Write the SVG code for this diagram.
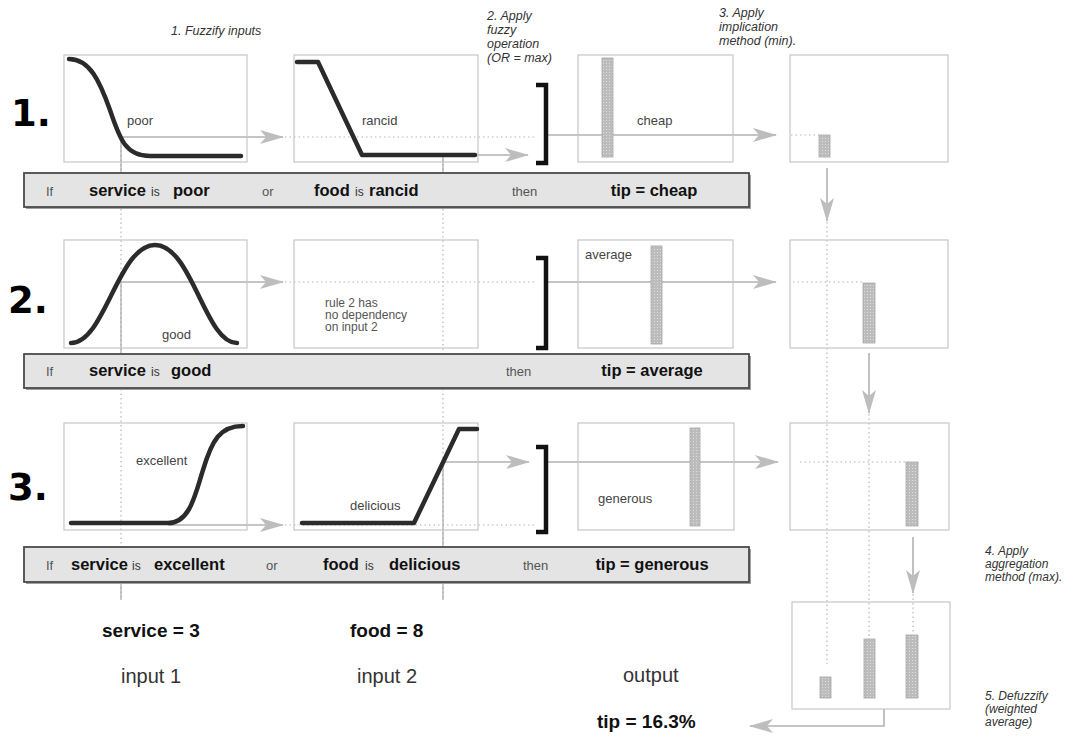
<svg xmlns="http://www.w3.org/2000/svg" width="1066" height="738" viewBox="0 0 1066 738">
  <defs>
    <style>
      .box{fill:none;stroke:#c6c6c6;stroke-width:1.2}
      .mf{fill:none;stroke:#2b2b2b;stroke-width:4.5;stroke-linecap:round;stroke-linejoin:round}
      .arw{fill:none;stroke:#b2b2b2;stroke-width:1.6;marker-end:url(#head)}
      .dot{fill:none;stroke:#b6b6b6;stroke-width:1.2;stroke-dasharray:1.5 3}
      .guide{fill:none;stroke:#a8a8a8;stroke-width:1.2}
      .bar{fill:url(#stipple);stroke:#a6a6a6;stroke-width:0.8}
      .brk{fill:none;stroke:#111;stroke-width:4.5;stroke-linejoin:miter}
      .rule{fill:#e4e4e4;stroke:#4a4a4a;stroke-width:1.8}
      .shadow{fill:#a0a0a0}
      .rn{font-family:"Liberation Sans",Arial,sans-serif;font-size:13px;fill:#555}
      .ri{font-family:"Liberation Sans",Arial,sans-serif;font-size:12px;fill:#333}
      .rb{font-family:"Liberation Sans",Arial,sans-serif;font-size:16.5px;font-weight:bold;fill:#111}
      .lbl{font-family:"Liberation Sans",Arial,sans-serif;font-size:13px;fill:#444}
      .small{font-family:"Liberation Sans",Arial,sans-serif;font-size:12px;fill:#555}
      .note{font-family:"Liberation Sans",Arial,sans-serif;font-size:12.5px;font-style:italic;fill:#333}
      .note2{font-family:"Liberation Sans",Arial,sans-serif;font-size:12px;font-style:italic;fill:#333}
      .num{font-family:"DejaVu Sans",sans-serif;font-weight:bold;font-size:37px;fill:#000}
      .val{font-family:"Liberation Sans",Arial,sans-serif;font-size:19px;font-weight:bold;fill:#111}
      .io{font-family:"Liberation Sans",Arial,sans-serif;font-size:20px;fill:#333}
    </style>
    <marker id="head" viewBox="0 0 24 14" markerWidth="24" markerHeight="14" refX="23" refY="7" orient="auto" markerUnits="userSpaceOnUse">
      <path d="M0,0 L24,7 L0,14 L6,7 z" fill="#bdbdbd"/>
    </marker>
    <pattern id="stipple" width="3" height="3" patternUnits="userSpaceOnUse">
      <rect width="3" height="3" fill="#bcbcbc"/>
      <rect width="1" height="1" fill="#dedede"/>
    </pattern>
  </defs>

  <rect width="1066" height="738" fill="#fff"/>

  <!-- step annotations -->
  <g id="steps">
    <text class="note" x="171" y="35">1. Fuzzify inputs</text>
    <text class="note" x="487" y="20">2. Apply</text>
    <text class="note" x="487" y="34">fuzzy</text>
    <text class="note" x="487" y="48">operation</text>
    <text class="note" x="487" y="62">(OR = max)</text>
    <text class="note" x="719" y="17">3. Apply</text>
    <text class="note" x="719" y="31">implication</text>
    <text class="note" x="719" y="45">method (min).</text>
    <text class="note2" x="985" y="555">4. Apply</text>
    <text class="note2" x="985" y="568">aggregation</text>
    <text class="note2" x="985" y="581">method (max).</text>
    <text class="note2" x="985" y="700">5. Defuzzify</text>
    <text class="note2" x="985" y="713">(weighted</text>
    <text class="note2" x="985" y="726">average)</text>
  </g>

  <!-- connectors: guide lines and flow arrows -->
  <g id="connectors">
    <!-- input value guides -->
    <line class="dot" x1="121" y1="137" x2="121" y2="600"/>
    <line class="guide" x1="121" y1="137" x2="121" y2="173"/>
    <line class="guide" x1="121" y1="282" x2="121" y2="354"/>
    <line class="guide" x1="121" y1="582" x2="121" y2="600"/>
    <line class="dot" x1="443" y1="155" x2="443" y2="600"/>
    <line class="guide" x1="443" y1="155" x2="443" y2="173"/>
    <line class="guide" x1="443" y1="462" x2="443" y2="547"/>
    <line class="guide" x1="443" y1="582" x2="443" y2="600"/>

    <!-- rule 1 -->
    <line class="arw" x1="121" y1="137" x2="283" y2="137"/>
    <line class="dot" x1="285" y1="137" x2="536" y2="137"/>
    <line class="arw" x1="443" y1="155" x2="528" y2="155"/>
    <line class="arw" x1="548" y1="135" x2="776" y2="135"/>
    <line class="dot" x1="791" y1="135" x2="819" y2="135"/>
    <line class="arw" x1="827" y1="168" x2="827" y2="221"/>

    <!-- rule 2 -->
    <line class="arw" x1="121" y1="282" x2="283" y2="282"/>
    <line class="dot" x1="285" y1="282" x2="536" y2="282"/>
    <line class="arw" x1="548" y1="282" x2="776" y2="282"/>
    <line class="dot" x1="793" y1="282" x2="863" y2="282"/>
    <line class="arw" x1="869" y1="353" x2="869" y2="413"/>

    <!-- rule 3 -->
    <line class="arw" x1="168" y1="525" x2="283" y2="525"/>
    <line class="dot" x1="285" y1="525" x2="536" y2="525"/>
    <line class="arw" x1="443" y1="462" x2="529" y2="462"/>
    <line class="arw" x1="548" y1="462" x2="778" y2="462"/>
    <line class="dot" x1="800" y1="462" x2="906" y2="462"/>
    <line class="arw" x1="913" y1="537" x2="913" y2="593"/>

    <!-- implication columns down to aggregation -->
    <line class="dot" x1="827" y1="222" x2="827" y2="664"/>
    <line class="dot" x1="869" y1="414" x2="869" y2="638"/>
    <line class="dot" x1="913" y1="594" x2="913" y2="634"/>

    <!-- defuzzified result -->
    <path class="arw" d="M884,709 L884,726 L750,726"/>
  </g>

  <!-- rule 1 -->
  <g id="rule1">
    <text class="num" x="11" y="126">1.</text>
    <g id="r1-service">
      <rect class="box" x="64" y="55" width="183" height="107"/>
      <path class="mf" d="M69,59 C90,59 100,82 110,110 C120,140 126,156 150,156 L241,156"/>
      <text class="lbl" x="127" y="125">poor</text>
    </g>
    <g id="r1-food">
      <rect class="box" x="294" y="55" width="184" height="107"/>
      <path class="mf" d="M297,62 L318,62 L362,155 L475,155"/>
      <text class="lbl" x="362" y="125">rancid</text>
    </g>
    <path id="r1-or" class="brk" d="M536,85 L546,85 L546,163 L536,163"/>
    <g id="r1-tip">
      <rect class="box" x="578" y="55" width="155" height="107"/>
      <rect class="bar" x="602" y="58" width="11" height="99"/>
      <text class="lbl" x="637" y="125">cheap</text>
    </g>
    <g id="r1-implied">
      <rect class="box" x="790" y="55" width="158" height="107"/>
      <rect class="bar" x="819" y="135" width="11" height="22"/>
    </g>
    <g id="r1-text">
      <rect class="shadow" x="26" y="175" width="725" height="34"/>
      <rect class="rule" x="24" y="173" width="725" height="34"/>
      <text class="rn" x="46" y="196">If</text>
      <text class="rb" x="89" y="196">service</text>
      <text class="ri" x="151" y="196">is</text>
      <text class="rb" x="173" y="196">poor</text>
      <text class="rn" x="262" y="196">or</text>
      <text class="rb" x="314" y="196">food</text>
      <text class="ri" x="355" y="196">is</text>
      <text class="rb" x="369" y="196">rancid</text>
      <text class="rn" x="512" y="196">then</text>
      <text class="rb" x="654" y="196" text-anchor="middle">tip = cheap</text>
    </g>
  </g>

  <!-- rule 2 -->
  <g id="rule2">
    <text class="num" x="8" y="313">2.</text>
    <g id="r2-service">
      <rect class="box" x="64" y="240" width="183" height="108"/>
      <path class="mf" d="M71,343 C105,343 118,245 155,245 C192,245 205,343 237,343"/>
      <text class="lbl" x="162" y="339">good</text>
    </g>
    <g id="r2-food">
      <rect class="box" x="294" y="240" width="184" height="108"/>
      <text class="small" x="325" y="307">rule 2 has</text>
      <text class="small" x="325" y="319">no dependency</text>
      <text class="small" x="325" y="331">on input 2</text>
    </g>
    <path id="r2-or" class="brk" d="M536,258 L546,258 L546,348 L536,348"/>
    <g id="r2-tip">
      <rect class="box" x="578" y="240" width="155" height="108"/>
      <rect class="bar" x="651" y="246" width="11" height="98"/>
      <text class="lbl" x="585" y="259">average</text>
    </g>
    <g id="r2-implied">
      <rect class="box" x="790" y="240" width="158" height="108"/>
      <rect class="bar" x="863" y="283" width="12" height="60"/>
    </g>
    <g id="r2-text">
      <rect class="shadow" x="26" y="356" width="725" height="34"/>
      <rect class="rule" x="24" y="354" width="725" height="34"/>
      <text class="rn" x="46" y="376">If</text>
      <text class="rb" x="89" y="376">service</text>
      <text class="ri" x="151" y="376">is</text>
      <text class="rb" x="171" y="376">good</text>
      <text class="rn" x="506" y="376">then</text>
      <text class="rb" x="652" y="376" text-anchor="middle">tip = average</text>
    </g>
  </g>

  <!-- rule 3 -->
  <g id="rule3">
    <text class="num" x="8" y="500">3.</text>
    <g id="r3-service">
      <rect class="box" x="64" y="423" width="183" height="107"/>
      <path class="mf" d="M71,523 L168,523 C190,523 195,495 203,470 C212,440 220,426 243,426"/>
      <text class="lbl" x="136" y="465">excellent</text>
    </g>
    <g id="r3-food">
      <rect class="box" x="294" y="423" width="184" height="107"/>
      <path class="mf" d="M302,523 L414,523 L459,429 L477,429"/>
      <text class="lbl" x="350" y="510">delicious</text>
    </g>
    <path id="r3-or" class="brk" d="M536,447 L546,447 L546,532 L536,532"/>
    <g id="r3-tip">
      <rect class="box" x="578" y="423" width="156" height="107"/>
      <rect class="bar" x="690" y="428" width="10" height="98"/>
      <text class="lbl" x="598" y="503">generous</text>
    </g>
    <g id="r3-implied">
      <rect class="box" x="790" y="423" width="159" height="107"/>
      <rect class="bar" x="906" y="462" width="12" height="64"/>
    </g>
    <g id="r3-text">
      <rect class="shadow" x="26" y="549" width="725" height="35"/>
      <rect class="rule" x="24" y="547" width="725" height="35"/>
      <text class="rn" x="46" y="570">If</text>
      <text class="rb" x="71" y="570">service</text>
      <text class="ri" x="132" y="570">is</text>
      <text class="rb" x="154" y="570">excellent</text>
      <text class="rn" x="266" y="570">or</text>
      <text class="rb" x="323" y="570">food</text>
      <text class="ri" x="365" y="570">is</text>
      <text class="rb" x="389" y="570">delicious</text>
      <text class="rn" x="523" y="570">then</text>
      <text class="rb" x="652" y="570" text-anchor="middle">tip = generous</text>
    </g>
  </g>

  <!-- aggregated output -->
  <g id="aggregate">
    <rect class="box" x="792" y="602" width="158" height="107"/>
    <rect class="bar" x="820" y="677" width="11" height="21"/>
    <rect class="bar" x="864" y="639" width="11" height="59"/>
    <rect class="bar" x="906" y="635" width="12" height="63"/>
  </g>

  <!-- inputs and result -->
  <g id="input1">
    <text class="val" x="102" y="637">service = 3</text>
    <text class="io" x="121" y="683">input 1</text>
  </g>
  <g id="input2">
    <text class="val" x="350" y="637">food = 8</text>
    <text class="io" x="357" y="683">input 2</text>
  </g>
  <g id="output">
    <text class="io" x="623" y="682">output</text>
    <text class="val" x="597" y="728">tip = 16.3%</text>
  </g>
</svg>
